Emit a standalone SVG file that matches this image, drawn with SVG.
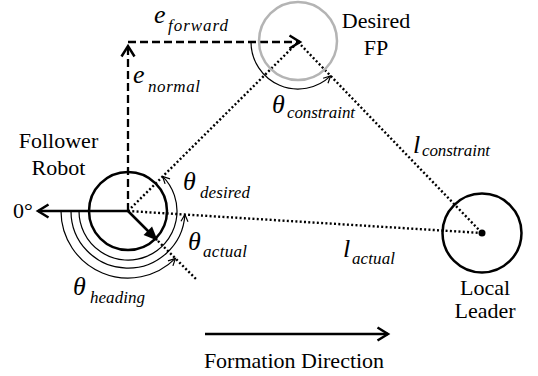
<svg xmlns="http://www.w3.org/2000/svg" width="538" height="376" viewBox="0 0 538 376" font-family="'Liberation Serif', 'Times New Roman', Times, serif">
<style>
  .lbl { font-size: 22px; fill: #000; }
  .m { font-style: italic; fill: #000; }
  .big { font-size: 26px; }
  .th { font-size: 26px; }
  .sub { font-size: 17px; }
  .thick { stroke: #000; stroke-width: 2.5; fill: none; }
  .dash { stroke: #000; stroke-width: 2.3; fill: none; stroke-dasharray: 8 4; }
  .dot { stroke: #000; stroke-width: 2.4; fill: none; stroke-dasharray: 2 2.3; }
  .arc { stroke: #000; stroke-width: 1.2; fill: none; marker-end: url(#small); }
</style>
<defs>
  <marker id="open" markerUnits="userSpaceOnUse" viewBox="0 0 13 16" refX="11.5" refY="8" markerWidth="13" markerHeight="16" orient="auto" overflow="visible">
    <path d="M1,1.5 L11.5,8 L1,14.5" fill="none" stroke="#000" stroke-width="2.5"/>
  </marker>
  <marker id="small" markerUnits="userSpaceOnUse" viewBox="0 0 8 8" refX="7.5" refY="4" markerWidth="8" markerHeight="8" orient="auto" overflow="visible">
    <path d="M0.5,0.5 L7.5,4 L0.5,7.5" fill="none" stroke="#000" stroke-width="1.2"/>
  </marker>
  <marker id="solid" markerUnits="userSpaceOnUse" viewBox="0 0 14 12" refX="13" refY="6" markerWidth="14" markerHeight="12" orient="auto" overflow="visible">
    <path d="M0,0 L14,6 L0,12 Z" fill="#000"/>
  </marker>
</defs>

<g id="connectors">
  <line class="dot" x1="128" y1="211" x2="482" y2="233"/>
  <line class="dot" x1="128" y1="211" x2="298" y2="42"/>
  <line class="dot" x1="298" y1="42" x2="482" y2="233"/>
  <line class="dot" x1="158" y1="241" x2="197" y2="280"/>
  <line class="dash" x1="128" y1="211" x2="128" y2="46" marker-end="url(#open)"/>
  <line class="dash" x1="128" y1="42" x2="300" y2="42" marker-end="url(#open)"/>
  <line class="thick" x1="128" y1="211" x2="38" y2="211" marker-end="url(#open)"/>
  <line class="thick" x1="128" y1="211" x2="157" y2="240" marker-end="url(#solid)"/>
  <path class="arc" d="M61,211 A67,67 0 0 0 175.4,258.4"/>
  <path class="arc" d="M71,211 A57,57 0 0 0 184.9,214.5"/>
  <path class="arc" d="M79,211 A49,49 0 1 0 162.6,176.4"/>
  <path class="arc" d="M251,42 A47,47 0 0 0 330.6,75.9"/>
  <line class="thick" x1="205" y1="334" x2="388" y2="334" marker-end="url(#open)"/>
</g>

<g id="follower">
  <circle cx="128" cy="211" r="39" fill="none" stroke="#000" stroke-width="2.5"/>
  <text class="lbl" x="58.5" y="148" text-anchor="middle">Follower</text>
  <text class="lbl" x="58.5" y="175" text-anchor="middle">Robot</text>
</g>

<g id="desired-fp">
  <circle cx="298" cy="41" r="39" fill="none" stroke="#b4b4b4" stroke-width="2.5"/>
  <text class="lbl" x="376" y="28" text-anchor="middle">Desired</text>
  <text class="lbl" x="376" y="55" text-anchor="middle">FP</text>
</g>

<g id="leader">
  <circle cx="482" cy="233" r="39.5" fill="none" stroke="#000" stroke-width="2.5"/>
  <circle cx="482" cy="233" r="3.5" fill="#000"/>
  <text class="lbl" x="485" y="295" text-anchor="middle">Local</text>
  <text class="lbl" x="485" y="318" text-anchor="middle">Leader</text>
</g>

<g id="labels">
  <text class="lbl" x="13" y="218">0°</text>
  <text class="lbl" x="294" y="368" text-anchor="middle">Formation Direction</text>

  <text class="m big" x="154" y="23">e</text>
  <text class="m sub" x="168" y="31" textLength="60">forward</text>

  <text class="m big" x="133" y="83">e</text>
  <text class="m sub" x="148" y="92" textLength="52">normal</text>

  <text class="m th" x="183" y="190">θ</text>
  <text class="m sub" x="200" y="198" textLength="50">desired</text>

  <text class="m th" x="188" y="250">θ</text>
  <text class="m sub" x="203" y="257" textLength="44">actual</text>

  <text class="m th" x="73" y="295">θ</text>
  <text class="m sub" x="90" y="303" textLength="55">heading</text>

  <text class="m th" x="272" y="113">θ</text>
  <text class="m sub" x="287" y="118" textLength="68">constraint</text>

  <text class="m big" x="413" y="153">l</text>
  <text class="m sub" x="422" y="156" textLength="68">constraint</text>

  <text class="m big" x="343" y="257">l</text>
  <text class="m sub" x="352" y="264" textLength="43">actual</text>
</g>
</svg>
